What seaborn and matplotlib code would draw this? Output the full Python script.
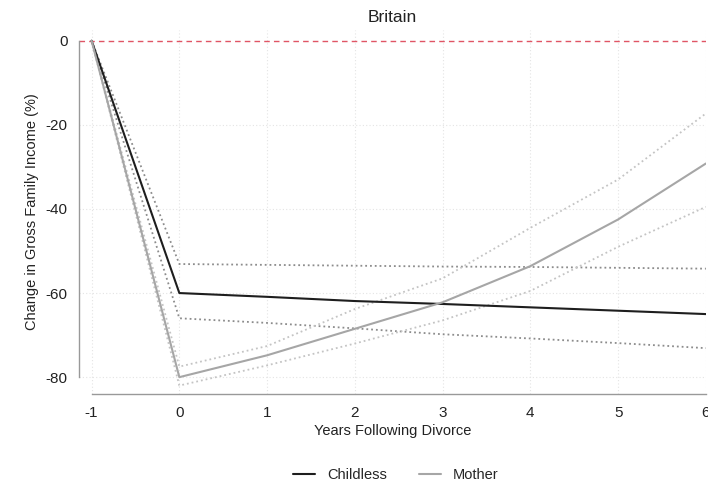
import numpy as np
import pandas as pd
import matplotlib
matplotlib.use("Agg")
import matplotlib.pyplot as plt
import seaborn as sns

# data
years = [-1, 0, 1, 2, 3, 4, 5, 6]
childless = [0, -60.0, -60.9, -61.9, -62.6, -63.4, -64.2, -65.0]
childless_hi = [0, -53.1, -53.3, -53.5, -53.7, -53.8, -54.0, -54.2]
childless_lo = [0, -66.0, -67.1, -68.4, -69.8, -70.8, -71.9, -73.1]
mother = [0, -80.0, -74.8, -68.5, -62.2, -53.6, -42.5, -29.2]
mother_hi = [0, -77.5, -72.6, -63.8, -56.5, -44.5, -33.0, -17.3]
mother_lo = [0, -82.0, -77.2, -72.0, -66.5, -59.5, -49.0, -39.5]

df = pd.DataFrame({
    "year": years * 2,
    "value": childless + mother,
    "group": ["Childless"] * len(years) + ["Mother"] * len(years),
})
ci = pd.DataFrame({
    "year": years * 4,
    "value": childless_hi + childless_lo + mother_hi + mother_lo,
    "band": ["c_hi"] * 8 + ["c_lo"] * 8 + ["m_hi"] * 8 + ["m_lo"] * 8,
})

sns.set_style("white")
plt.rcParams["font.family"] = ["Liberation Sans", "DejaVu Sans"]
plt.rcParams["axes.unicode_minus"] = False

fig = plt.figure(figsize=(7.08, 4.87), dpi=100)
ax = fig.add_axes([0.112, 0.191, 0.885, 0.747])

# grid
for x in years:
    ax.axvline(x, color="#e4e4e4", lw=0.8, ls=(0, (1, 2)), zorder=0)
for y in [-20, -40, -60, -80]:
    ax.axhline(y, color="#e4e4e4", lw=0.8, ls=(0, (1, 2)), zorder=0)

ax.axhline(0, color="#e05565", lw=1.0, ls=(0, (4, 3)), zorder=1)

# confidence bands as dotted lines
ci_pal = {"c_hi": "#8c8c8c", "c_lo": "#8c8c8c", "m_hi": "#c4c4c4", "m_lo": "#c4c4c4"}
sns.lineplot(data=ci, x="year", y="value", hue="band", palette=ci_pal,
             ax=ax, lw=1.3, ls=":", legend=False, errorbar=None)

sns.lineplot(data=df, x="year", y="value", hue="group",
             palette={"Childless": "#1e1e1e", "Mother": "#a6a6a6"},
             ax=ax, lw=1.5, errorbar=None)

ax.set_xlim(-1.14, 6.0)
ax.set_ylim(-84, 2.5)
ax.set_xticks(years)
ax.set_yticks([0, -20, -40, -60, -80])
ax.tick_params(axis="both", labelsize=11, colors="#222222", length=5, width=0.9, color="#999999")

for s in ["top", "right"]:
    ax.spines[s].set_visible(False)
ax.spines["left"].set_bounds(-80, 0)
ax.spines["bottom"].set_bounds(-1, 6)
for s in ["left", "bottom"]:
    ax.spines[s].set_color("#999999")
    ax.spines[s].set_linewidth(1.0)

ax.set_title("Britain", fontsize=12.5, color="#222222", pad=6)
ax.set_xlabel("Years Following Divorce", fontsize=10.5, color="#222222", labelpad=3)
ax.set_ylabel("Change in Gross Family Income (%)", fontsize=10.5, color="#222222", labelpad=5)

handles, labels = ax.get_legend_handles_labels()
ax.legend(handles, labels, loc="center", bbox_to_anchor=(0.505, -0.222),
          ncol=2, frameon=False, fontsize=10.5, handlelength=1.5, columnspacing=2.2)

fig.savefig("out.png", dpi=100)
